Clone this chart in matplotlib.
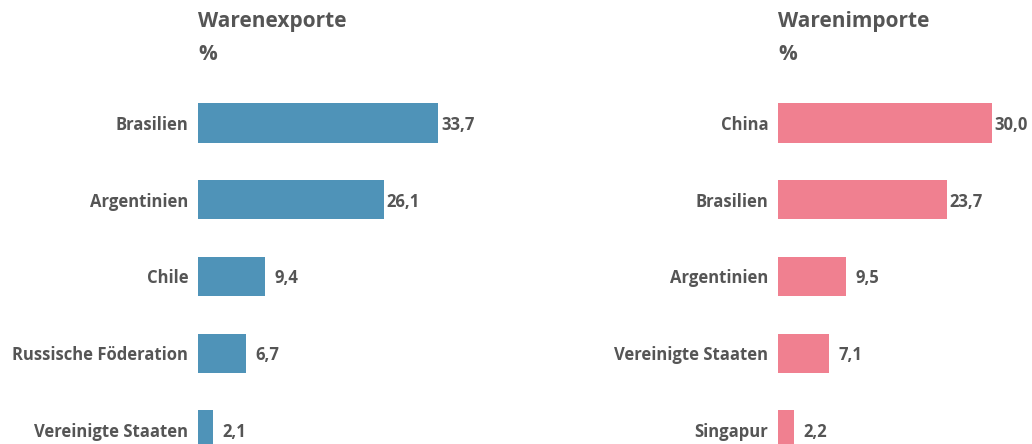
import matplotlib.pyplot as plt

plt.rcParams['font.family'] = ['Open Sans', 'DejaVu Sans']

export_countries = ["Brasilien", "Argentinien", "Chile", "Russische Föderation", "Vereinigte Staaten"]
export_values = [33.7, 26.1, 9.4, 6.7, 2.1]
import_countries = ["China", "Brasilien", "Argentinien", "Vereinigte Staaten", "Singapur"]
import_values = [30.0, 23.7, 9.5, 7.1, 2.2]

W, H = 1032, 444
fig = plt.figure(figsize=(W / 100, H / 100), dpi=100)
txt = "#555555"


def panel(x0, title, cats, vals, color):
    ax = fig.add_axes([x0 / W, 0, 285 / W, (444 - 85) / H])
    y = list(range(len(cats)))
    ax.barh(y, vals, height=0.51, color=color)
    ax.set_xlim(0, 40)
    ax.set_ylim(4.185, -0.495)
    ax.set_yticks(y)
    ax.set_yticklabels(cats, fontsize=12, fontweight='bold', color=txt,
                       va='center_baseline')
    ax.tick_params(axis='y', length=0, pad=7)
    ax.set_xticks([])
    for s in ax.spines.values():
        s.set_visible(False)
    for yi, v in zip(y, vals):
        off = 2 if v > 20 else 7
        ax.annotate(f"{v:.1f}".replace(".", ","), (v, yi), xytext=(off, 0),
                    textcoords="offset points", va='center_baseline', ha='left',
                    fontsize=12, fontweight='bold', color=txt)
    fig.text(x0 / W, 1 - 22 / H, title, fontsize=15, fontweight='bold',
             color=txt, va='center', ha='left')
    fig.text(x0 / W, 1 - 55 / H, "%", fontsize=15, fontweight='bold',
             color=txt, va='center', ha='left')


panel(198, "Warenexporte", export_countries, export_values, "#4f93b8")
panel(778, "Warenimporte", import_countries, import_values, "#f08090")

fig.savefig("out.png", dpi=100)
